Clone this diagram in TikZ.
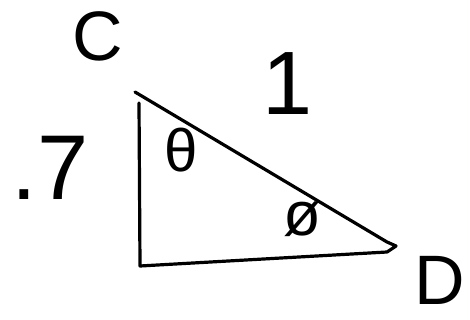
\documentclass[tikz,border=0pt]{standalone}
\usepackage{fontspec}
\setmainfont{Liberation Sans}
\usepackage{tikz}

\begin{document}
\begin{tikzpicture}[x=1pt, y=-1pt,
    pen/.style = {line width=3.2pt, line cap=round, line join=round},
    lbl/.style = {inner sep=0pt, font=\fontsize{#1}{#1}\selectfont}]
            \useasboundingbox (0,0) rectangle (470,320);
            \def\tx{135} \def\ty{92} \def\rx{396} \def\ry{246}

            \coordinate (hyptop) at (\tx,\ty);
            \coordinate (vtop) at (139,103);
            \coordinate (bl) at (140,266);
            \coordinate (right) at (\rx,\ry);

            \draw[pen] (hyptop) -- (\rx-9,\ry-4) -- (right) -- (387,252) -- (bl) -- (vtop);

            \node[lbl=70] (C) at (98,36) {C};
            \node[lbl=90] (one) at (288,84) {1};
            \node[lbl=92] (seven) at (50,168) {.7};
            \node[lbl=60] (theta) at (181,150) {θ};
            \node[lbl=62] (phi) at (302,219) {ø};
            \node[lbl=70, anchor=east] (D) at (465,280) {D};
        \end{tikzpicture}
\end{document}
